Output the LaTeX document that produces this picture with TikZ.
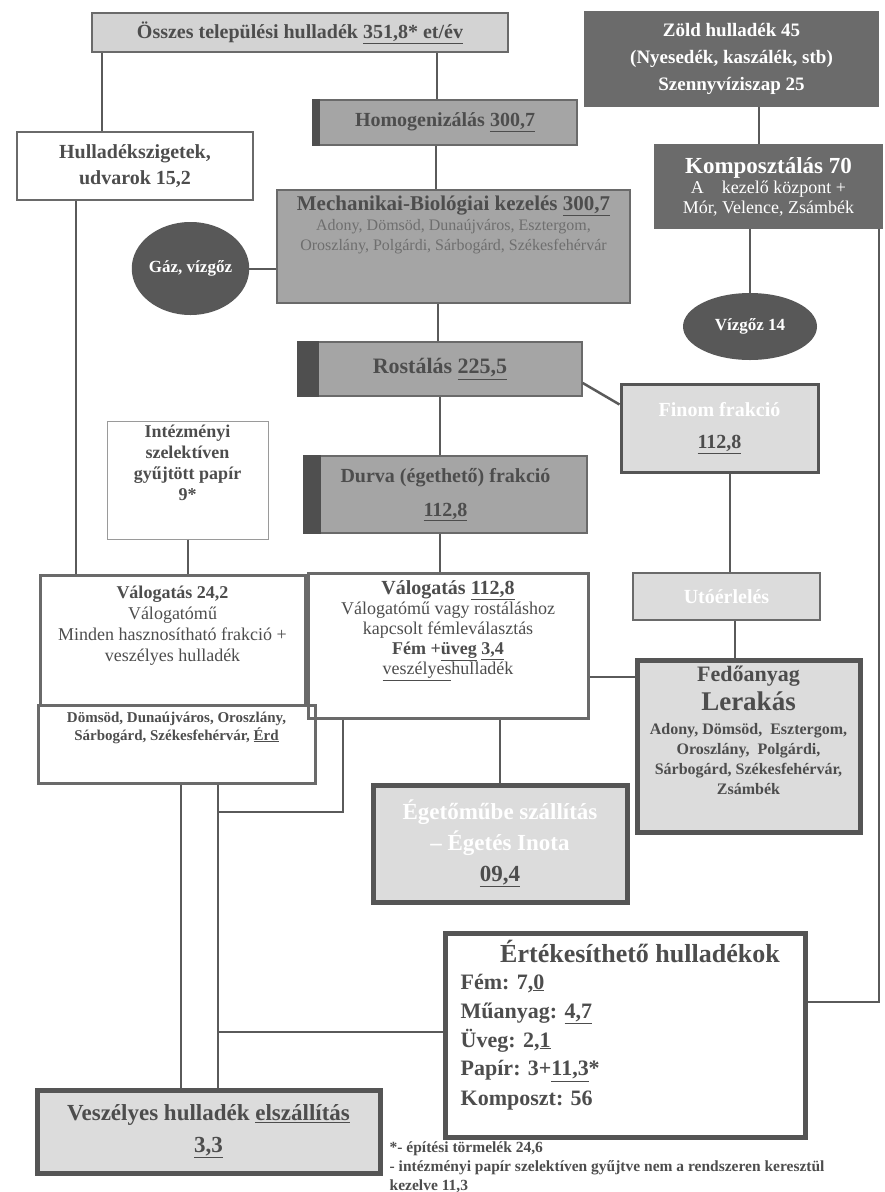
\documentclass[tikz,border=0pt]{standalone}
\usepackage{fontspec}
\setmainfont{Liberation Serif}
\usepackage{tikz}
\usetikzlibrary{shapes.geometric}

\definecolor{txtgray}{HTML}{4D4D4D}
\definecolor{subgray}{HTML}{6E6E6E}
\definecolor{edgegray}{HTML}{6A6A6A}
\definecolor{darkedge}{HTML}{555555}
\definecolor{lightedge}{HTML}{9A9A9A}
\definecolor{topfill}{HTML}{D3D3D3}
\definecolor{midfill}{HTML}{A5A5A5}
\definecolor{lightfill}{HTML}{DCDCDC}
\definecolor{darkfill}{HTML}{6B6B6B}
\definecolor{ovalfill}{HTML}{585858}
\definecolor{stripegray}{HTML}{4F4F4F}
\definecolor{linkgray}{HTML}{5A5A5A}

\newcommand{\fs}[2]{\fontsize{#1}{#2}\selectfont}

\tikzset{
  box/.style={draw=edgegray, line width=1.5pt, align=center, text=txtgray, inner sep=2pt},
  darkbox/.style={box, fill=darkfill, draw=darkfill, text=white},
  oval/.style={ellipse, fill=ovalfill, text=white, inner sep=0pt},
  boxtext/.style={align=center, inner sep=0pt, text=txtgray},
  link/.style={draw=linkgray, line width=2pt}
}

\begin{document}
\begin{tikzpicture}[x=1pt,y=-1pt]
\useasboundingbox (0,0) rectangle (884,1192);
% top row
\node[box, fill=topfill, line width=2pt, minimum width=416, minimum height=39,
  font=\fs{20}{24}\bfseries] (tot) at (300,32.5) {Összes települési hulladék \underline{351,8* et/év}};
\node[darkbox, minimum width=293, minimum height=94, font=\fs{19}{27}\bfseries] (zold) at (731.5,59)
  {Zöld hulladék 45\\(Nyesedék, kaszálék, stb)\\Szennyvíziszap 25};
\node[box, line width=2pt, minimum width=236, minimum height=68, font=\fs{20}{26}\bfseries] (hsz) at (135,166)
  {Hulladékszigetek,\\udvarok 15,2};
\node[box, fill=midfill, minimum width=264, minimum height=45, font=\fs{20}{24}\bfseries] (homog) at (445,122.5)
  {Homogenizálás \underline{300,7}};
\fill[stripegray] (homog.north west) rectangle ([xshift=8]homog.south west);
% mechanical-biological treatment
\node[box, fill=midfill, line width=2pt, minimum width=353, minimum height=113] (mech) at (453.5,246.5) {};
\node[boxtext, anchor=north, text=subgray, font=\fs{16}{20}] (mechtxt) at ([yshift=-7]mech.north)
  {{\fs{21}{24}\bfseries\color{txtgray}Mechanikai-Biológiai kezelés \underline{300,7}}\\
   Adony, Dömsöd, Dunaújváros, Esztergom,\\Oroszlány, Polgárdi, Sárbogárd, Székesfehérvár};
\node[oval, minimum width=115, minimum height=93, font=\fs{17}{20}\bfseries] (gaz) at (190.5,268.5) {Gáz, vízgőz};
\node[darkbox, minimum width=227, minimum height=83, font=\fs{18}{20}] (komp) at (768.5,186.5)
  {{\fs{23}{26}\bfseries Komposztálás 70}\\A\enspace\enspace kezelő központ +\\Mór, Velence, Zsámbék};
\node[oval, minimum width=134, minimum height=67, font=\fs{17}{20}\bfseries] (vizgoz) at (750,326.5) {Vízgőz 14};
% screening
\node[box, fill=midfill, minimum width=284, minimum height=54, font=\fs{22}{26}\bfseries] (rost) at (440,369)
  {Rostálás \underline{225,5}};
\fill[stripegray] (rost.north west) rectangle ([xshift=22]rost.south west);
\node[box, fill=lightfill, draw=darkedge, line width=3pt, minimum width=197, minimum height=88,
  font=\fs{20}{32}\bfseries] (finom) at (719.5,428) {\textcolor{white}{Finom frakció}\\\underline{112,8}};
\node[box, fill=midfill, minimum width=283, minimum height=77, font=\fs{20}{34}\bfseries] (durva) at (445.5,494.5)
  {Durva (égethető) frakció\\\underline{112,8}};
\fill[stripegray] (durva.north west) rectangle ([xshift=18]durva.south west);
% paper
\node[box, draw=lightedge, line width=1pt, minimum width=161, minimum height=118] (inte) at (187.5,480) {};
\node[boxtext, anchor=north, font=\fs{18}{21}\bfseries] (intetxt) at ([yshift=-4]inte.north)
  {Intézményi\\szelektíven\\gyűjtött papír\\9*};
% sorting
\node[box, line width=3pt, minimum width=265, minimum height=130] (val1) at (172.5,640) {};
\node[boxtext, anchor=north, font=\fs{18}{21}] (val1txt) at ([yshift=-12]val1.north)
  {{\bfseries Válogatás 24,2}\\Válogatómű\\Minden hasznosítható frakció +\\veszélyes hulladék};
\node[box, line width=3pt, minimum width=277, minimum height=78] (city) at (176.5,744) {};
\node[boxtext, anchor=north, font=\fs{15}{18}\bfseries] (citytxt) at ([yshift=-8]city.north)
  {Dömsöd, Dunaújváros, Oroszlány,\\Sárbogárd, Székesfehérvár, \underline{Érd}};
\node[box, line width=3pt, minimum width=280, minimum height=145] (val2) at (448,645.5) {};
\node[boxtext, anchor=north, font=\fs{18}{20}] (val2txt) at ([yshift=-9]val2.north)
  {{\fs{20}{22}\bfseries Válogatás \underline{112,8}}\\Válogatómű vagy rostáláshoz\\kapcsolt fémleválasztás\\
   \textbf{Fém +\underline{üveg} \underline{3,4}}\\\underline{veszélyes}hulladék};
\node[box, fill=lightfill, line width=2.5pt, minimum width=187, minimum height=47, text=white,
  font=\fs{20}{24}\bfseries] (uto) at (726.5,596.5) {Utóérlelés};
\node[box, fill=lightfill, draw=darkedge, line width=5pt, minimum width=223, minimum height=172] (fedo) at (748.5,746) {};
\node[boxtext, anchor=north, font=\fs{16}{20}\bfseries] (fedotxt) at ([yshift=-8]fedo.north)
  {{\fs{22}{26}\bfseries Fedőanyag}\\[5pt]{\fs{27}{30}\bfseries Lerakás}\\[4pt]Adony, Dömsöd,\enspace Esztergom,\\
   Oroszlány,\enspace Polgárdi,\\Sárbogárd, Székesfehérvár,\\Zsámbék};
% outputs
\node[box, fill=lightfill, draw=darkedge, line width=5pt, minimum width=254, minimum height=117, text=white,
  font=\fs{23}{31}\bfseries] (eget) at (500,843.5) {Égetőműbe szállítás\\-- Égetés Inota\\\textcolor{txtgray}{\underline{09,4}}};
\node[box, fill=white, draw=darkedge, line width=5pt, minimum width=360, minimum height=204] (ert) at (625,1035) {};
\node[boxtext, font=\fs{26}{30}\bfseries] (erttitle) at ([xshift=15, yshift=-21]ert.north) {Értékesíthető hulladékok};
\node[boxtext, anchor=north west, align=left, font=\fs{22}{29}\bfseries] (ertlist) at ([xshift=18, yshift=-43]ert.north west)
  {Fém: 7,\underline{0}\\Műanyag: \underline{4,7}\\Üveg: 2,\underline{1}\\Papír: 3+\underline{11,3}*\\Komposzt: 56};
\node[box, fill=lightfill, draw=darkedge, line width=5pt, minimum width=343, minimum height=83,
  font=\fs{23}{32}\bfseries] (vesz) at (208.5,1131.5) {Veszélyes hulladék \underline{elszállítás}\\\underline{3,3}};
\node[boxtext, anchor=north west, align=left, font=\fs{15.5}{19}\bfseries] (notes) at ([xshift=-53, yshift=-2]ert.south west)
  {*- építési törmelék 24,6\\- intézményi papír szelektíven gyűjtve nem a rendszeren keresztül\\kezelve \underline{11,3}};

% connectors
\coordinate (p1) at ([xshift=-33]hsz.north);
\coordinate (p2) at ([xshift=-8]homog.north);
\coordinate (p3) at ([xshift=-18]mech.north);
\coordinate (p4) at ([xshift=-10]komp.north);
\coordinate (p5) at ([xshift=-2]rost.north);
\coordinate (p6) at ([xshift=-6]durva.south);
\coordinate (p7) at ([xshift=10]finom.south);
\coordinate (p8) at ([xshift=8]uto.south);
\coordinate (p9) at ([xshift=-59]hsz.south);
\coordinate (p10) at ([yshift=-31]val2.east);
\coordinate (p11) at ([xshift=-4]komp.south east);
\coordinate (p12) at ([yshift=33]ert.east);
\coordinate (p13) at ([xshift=-105]val2.south);
\coordinate (p14) at ([yshift=3]ert.west);
\coordinate (p15) at ([xshift=41]city.south);
\coordinate (p16) at ([xshift=4]city.south);
\draw[link] (p1) -- (p1 |- tot.south);
\draw[link] (p2) -- (p2 |- tot.south);
\draw[link] (p3) -- (p3 |- homog.south);
\draw[link] (p4) -- (p4 |- zold.south);
\draw[link] (gaz.east) -- (gaz.east -| mech.west);
\draw[link] (vizgoz.north) -- (vizgoz.north |- komp.south);
\draw[link] (p5) -- (p5 |- mech.south);
\draw[link] (rost.south) -- (rost.south |- durva.north);
\draw[link, line width=2.5pt] ([yshift=-14]rost.east) -- ([yshift=-22]finom.north west);
\draw[link] (p6) -- (p6 |- val2.north);
\draw[link] (p7) -- (p7 |- uto.north);
\draw[link] (p8) -- (p8 |- fedo.north);
\draw[link] (p9) -- (p9 |- val1.north);
\draw[link] (inte.south) -- (inte.south |- val1.north);
\draw[link] (p10) -- (p10 -| fedo.west);
\draw[link] (eget.north) -- (eget.north |- val2.south);
\draw[link] (p11) |- (p12);
\draw[link] (p13) -- ++(0,92) -| (p15);
\draw[link] (p15) |- (p14);
\draw[link] (p15) -- (p15 |- vesz.north);
\draw[link] (p16) -- (p16 |- vesz.north);
\end{tikzpicture}
\end{document}
